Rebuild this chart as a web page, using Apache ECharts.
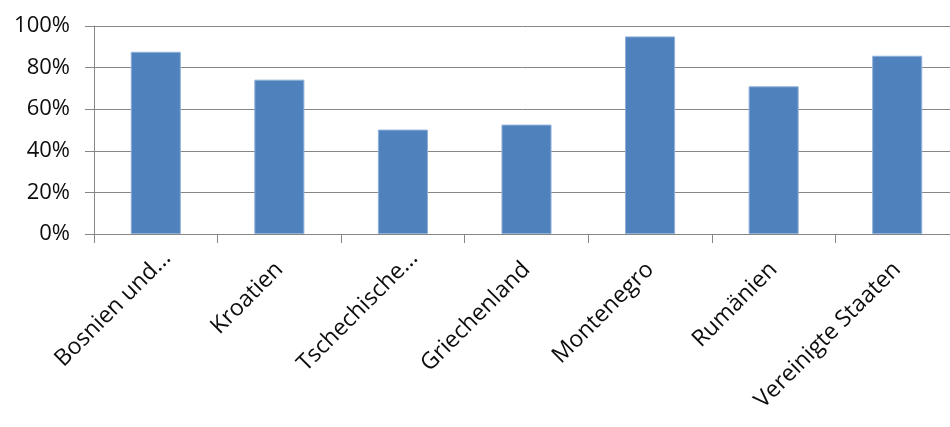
<!DOCTYPE html>
<html>
<head>
<meta charset="utf-8">
<script src="https://cdn.jsdelivr.net/npm/echarts@6/dist/echarts.min.js"></script>
<style>html,body{margin:0;padding:0;background:#fff}#c{width:950px;height:427px}</style>
</head>
<body>
<div id="c"></div>
<script>
const categories = ["Bosnien und...", "Kroatien", "Tschechische...", "Griechenland", "Montenegro", "Rumänien", "Vereinigte Staaten"];
const values = [87.6, 74.2, 50.2, 52.6, 95.0, 71.0, 85.7];
const yTicks = [0, 20, 40, 60, 80, 100];

// Truncated labels ("...") sit slightly further along the text direction, as in the source
const categoryItems = categories.map(c => c.endsWith('...')
  ? {value: c, textStyle: {padding: [0, -16, 0, 0]}}
  : c);

const chart = echarts.init(document.getElementById('c'), null, {renderer: 'canvas'});
chart.setOption({
  animation: false,
  grid: {left: 94, right: -9, top: 26, bottom: 193, outerBoundsMode: 'none', containLabel: false},
  xAxis: {
    type: 'category',
    data: categoryItems,
    axisLine: {show: true, lineStyle: {color: '#868686', width: 1}},
    axisTick: {show: true, length: 9, lineStyle: {color: '#868686'}},
    axisLabel: {rotate: 45, margin: 32, fontFamily: 'Open Sans', fontSize: 23, color: '#0d0d0d', interval: 0}
  },
  yAxis: {
    type: 'value',
    min: yTicks[0], max: yTicks[yTicks.length - 1], interval: 20,
    axisLine: {show: true, lineStyle: {color: '#868686', width: 1}},
    axisTick: {show: true, length: 9, lineStyle: {color: '#868686'}},
    splitLine: {show: true, lineStyle: {color: '#868686', width: 1}},
    axisLabel: {margin: 24, fontFamily: 'Open Sans', fontSize: 22, color: '#0d0d0d', formatter: v => v + '%'}
  },
  series: [{
    type: 'bar',
    data: values,
    barWidth: '40.5%',
    itemStyle: {color: '#4f81bd', borderColor: '#8fb0d8', borderWidth: 1}
  }]
});
</script>
</body>
</html>
